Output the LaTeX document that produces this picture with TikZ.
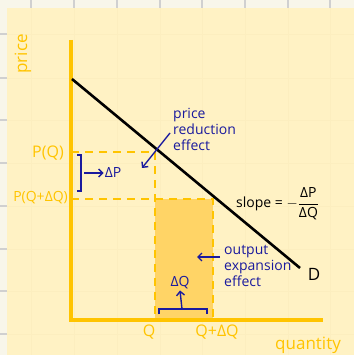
\documentclass[tikz,border=0pt]{standalone}
\usepackage{amsmath}
\usepackage{fontspec}
\setmainfont{Open Sans}
\usetikzlibrary{arrows.meta, positioning, calc}
\definecolor{PageBg}{HTML}{F8F6EA}
\definecolor{NoteYellow}{HTML}{FFF2C4}
\definecolor{NoteGrid}{HTML}{FCEEBF}
\definecolor{GridGray}{HTML}{D0D0D0}
\definecolor{AxisGold}{HTML}{FFC400}
\definecolor{AreaGold}{HTML}{FFD466}
\definecolor{InkBlue}{HTML}{1A1A9E}
\tikzset{
  gridline/.style={draw=GridGray, line width=1.6pt},
  notegrid/.style={draw=NoteGrid, line width=0.8pt},
  axisline/.style={draw=AxisGold, line width=4.5pt},
  guideline/.style={draw=AxisGold, line width=2.6pt, dash pattern=on 8pt off 6pt},
  demandline/.style={draw=black, line width=2.6pt},
  inkline/.style={draw=InkBlue, line width=1.4pt},
  inkarrow/.style={-{Straight Barb[length=4pt, width=8pt]}, draw=InkBlue, line width=1.4pt},
  axislabel/.style={text=AxisGold, font=\fontsize{16}{18}\selectfont, inner sep=1pt},
  inknote/.style={text=InkBlue, align=left, font=\fontsize{14}{16}\selectfont, inner sep=1pt},
  blacknote/.style={text=black, font=\fontsize{14}{16}\selectfont, inner sep=1pt}
}
\begin{document}
\begin{tikzpicture}[x=1pt, y=-1pt, node distance=4pt]
\useasboundingbox (0,0) rectangle (354,355);
% page and sticky note
\fill[PageBg] (0,0) rectangle (354,355);
\foreach \gx in {31,74,117,160,202,245,288,330}
  \draw[gridline] (\gx,0) -- (\gx,8);
\foreach \gy in {34,78,120,163,206,249,291,334}
  \draw[gridline] (0,\gy) -- (7,\gy);
\fill[NoteYellow] (7,8) rectangle (354,355);
\foreach \gx in {31,74,117,160,202,245,288,330}
  \draw[notegrid] (\gx,8) -- (\gx,355);
\foreach \gy in {34,78,120,163,206,249,291,334}
  \draw[notegrid] (7,\gy) -- (354,\gy);

% points of the chart
\coordinate (ytop) at (71,40);
\coordinate (origin) at (71,320);
\coordinate (xend) at (323,320);
\coordinate (dstart) at (72,79);
\coordinate (dend) at (300,268);
\coordinate (pq) at (71,152);
\coordinate (pqdq) at (71,199);
\coordinate (cornerq) at (155,152);
\coordinate (cornerqdq) at (213,199);
\coordinate (qbase) at (155,320);
\coordinate (qdqbase) at (213,320);

% output area
\fill[AreaGold] (155,199) rectangle (qdqbase);

% guides
\draw[guideline] (pq) -- (cornerq) -- (qbase);
\draw[guideline] (pqdq) -- (cornerqdq) -- (qdqbase);

% axes
\draw[axisline] (ytop) -- (origin) -- (xend);

% demand
\draw[demandline] (dstart) -- (dend);
\node[blacknote, font=\fontsize{17}{19}\selectfont] (dlabel) at (314,274) {D};
\node[blacknote, anchor=west] (slopelabel) at (235,204)
  {slope = $-\dfrac{\text{ΔP}}{\text{ΔQ}}$};

% axis labels
\node[axislabel, rotate=90, font=\fontsize{17}{19}\selectfont] (pricelabel) at (23,54) {price};
\node[axislabel, anchor=east] (pqlabel) at (65,153) {P(Q)};
\node[axislabel, anchor=east, font=\fontsize{14}{16}\selectfont] (pqdqlabel) at (69,198) {P(Q+ΔQ)};
\node[axislabel, below=4pt of qbase, xshift=-6pt] (qlabel) {Q};
\node[axislabel, below=4pt of qdqbase, xshift=4pt] (qdqlabel) {Q+ΔQ};
\node[axislabel, font=\fontsize{17}{19}\selectfont] (quantitylabel) at (308,345) {quantity};

% price reduction effect
\node[inknote, anchor=north west] (pricenote) at (172,107) {price\\reduction\\effect};
\coordinate (redtail) at (170,133);
\coordinate (redtip) at (142,168);
\draw[inkarrow] (redtail) -- (redtip);

% delta P
\coordinate (brtop) at (77,155);
\coordinate (brbot) at (77,191);
\coordinate (brmid) at (84,173);
\draw[inkline] (brtop) -- ++(4,0) |- (brbot);
\node[inknote] (dplabel) at (113,173) {ΔP};
\draw[inkarrow] (brmid) -- (dplabel.west);

% output expansion effect
\node[inknote, anchor=north west] (outputnote) at (223,244) {output\\expansion\\effect};
\coordinate (outtail) at (220,257);
\coordinate (outtip) at (197,257);
\draw[inkarrow] (outtail) -- (outtip);

% delta Q
\coordinate (brleft) at (159,314);
\coordinate (brright) at (207,314);
\coordinate (brcenter) at (182,309);
\draw[inkline] (brleft) -- ++(0,-5) -| (brright);
\node[inknote] (dqlabel) at (180,283) {ΔQ};
\draw[inkarrow] (brcenter) -- (dqlabel.south);
\end{tikzpicture}
\end{document}
